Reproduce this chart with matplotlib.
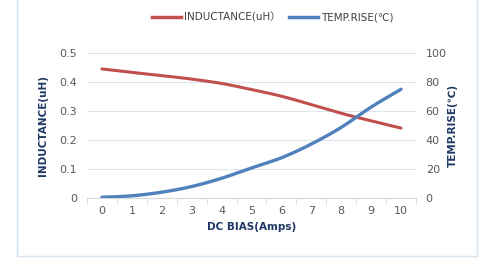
import numpy as np
import matplotlib
matplotlib.use("Agg")
import matplotlib.pyplot as plt
from matplotlib.lines import Line2D
from matplotlib.patches import Rectangle

categories = [0, 1, 2, 3, 4, 5, 6, 7, 8, 9, 10]
inductance = [0.444, 0.432, 0.421, 0.409, 0.394, 0.373, 0.350, 0.321, 0.291, 0.265, 0.240]
temp_rise = [0.3, 1.3, 3.8, 7.7, 13.4, 20.5, 27.5, 37.0, 48.5, 62.5, 74.8]
y1_ticks = [0, 0.1, 0.2, 0.3, 0.4, 0.5]
y1_labels = ["0", "0.1", "0.2", "0.3", "0.4", "0.5"]
y2_ticks = [0, 20, 40, 60, 80, 100]

def smooth(x, y, n=20):
    x = np.asarray(x, float); y = np.asarray(y, float)
    px = np.concatenate([[2*x[0]-x[1]], x, [2*x[-1]-x[-2]]])
    py = np.concatenate([[2*y[0]-y[1]], y, [2*y[-1]-y[-2]]])
    xs, ys = [], []
    for i in range(1, len(px)-2):
        t = np.linspace(0, 1, n, endpoint=False)
        for arr, out in ((px, xs), (py, ys)):
            p0, p1, p2, p3 = arr[i-1], arr[i], arr[i+1], arr[i+2]
            out.append(0.5*((2*p1) + (-p0+p2)*t + (2*p0-5*p1+4*p2-p3)*t**2 + (-p0+3*p1-3*p2+p3)*t**3))
    xs.append([x[-1]]); ys.append([y[-1]])
    return np.concatenate(xs), np.concatenate(ys)

plt.rcParams['font.family'] = ['DejaVu Sans', 'Noto Sans CJK SC']
fig = plt.figure(figsize=(4.84, 2.6), dpi=100)
fig.patches.append(Rectangle((17/484, 4/260), 460/484, 266/260, transform=fig.transFigure,
                             fill=False, edgecolor='#d6e2ee', linewidth=1.0))

ax = fig.add_axes([87/484, 62.3/260, 329/484, 145/260])
ax2 = ax.twinx()

red = '#c0504d'
blue = '#4f81bd'
tick_color = '#595959'
label_color = '#1f3864'

xs, ys = smooth(categories, inductance)
ax.plot(xs, ys, color=red, linewidth=2.2, solid_capstyle='round')
xs2, ys2 = smooth(categories, temp_rise)
ax2.plot(xs2, ys2, color=blue, linewidth=2.4, solid_capstyle='round')

ax.set_xlim(-0.5, 10.5)
ax.set_ylim(0, 0.5)
ax2.set_ylim(0, 100)
ax.set_yticks(y1_ticks)
ax.set_yticklabels(y1_labels)
ax2.set_yticks(y2_ticks)
ax.set_xticks(categories)
ax.set_xticks(np.arange(-0.5, 11, 1), minor=True)

for a in (ax, ax2):
    for s in a.spines.values():
        s.set_visible(False)
ax.spines['bottom'].set_visible(True)
ax.spines['bottom'].set_color('#d9d9d9')
ax.grid(axis='y', color='#dde6f0', linewidth=0.8)
ax.set_axisbelow(True)

ax.tick_params(axis='x', which='major', length=0, colors=tick_color, labelsize=8, pad=6)
ax.tick_params(axis='x', which='minor', length=4, color='#d9d9d9')
ax.tick_params(axis='y', length=0, colors=tick_color, labelsize=8, pad=7)
ax2.tick_params(axis='y', length=0, colors=tick_color, labelsize=8, pad=7)

ax.set_xlabel('DC BIAS(Amps)', color=label_color, fontsize=7.5, fontweight='bold', labelpad=4)
ax.set_ylabel('INDUCTANCE(uH)', color=label_color, fontsize=7.5, fontweight='bold', labelpad=8)
ax2.set_ylabel('TEMP.RISE(℃)', color=label_color, fontsize=7.5, fontweight='bold', labelpad=1)

handles = [Line2D([0], [0], color=red, linewidth=2.5), Line2D([0], [0], color=blue, linewidth=2.5)]
fig.legend(handles, ['INDUCTANCE(uH）', 'TEMP.RISE(℃)'], loc='center', bbox_to_anchor=(273/484, 1-17/260),
           ncol=2, frameon=False, fontsize=7.5, handlelength=2.8, handletextpad=0.3, columnspacing=0.8,
           labelcolor='#404040')

fig.savefig('out.png', dpi=100)
